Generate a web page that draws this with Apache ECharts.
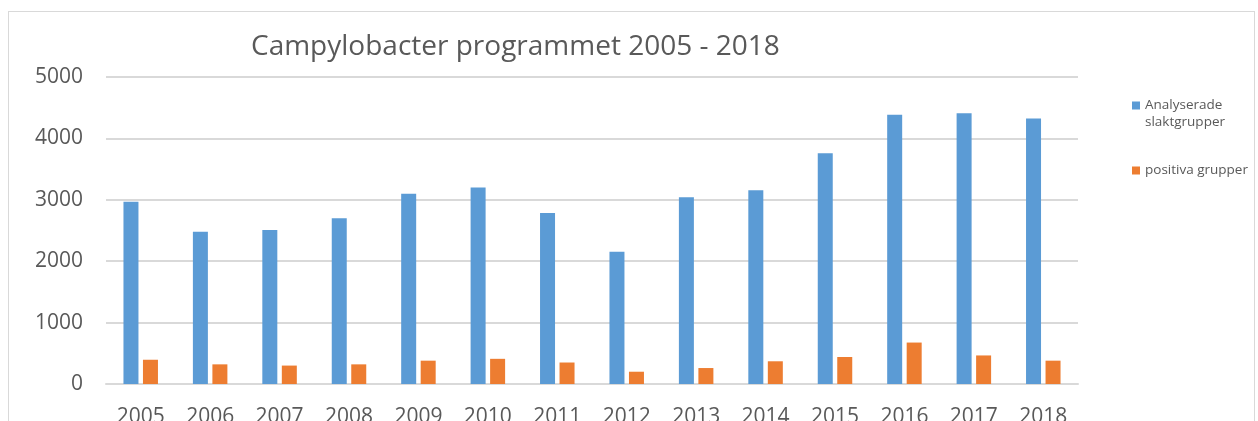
<!DOCTYPE html>
<html>
<head>
<meta charset="utf-8">
<script src="https://cdn.jsdelivr.net/npm/echarts@6/dist/echarts.min.js"></script>
<style>
  html, body { margin: 0; padding: 0; background: #ffffff; }
  #frame { position: absolute; left: 8px; top: 11px; width: 1247px; height: 440px; border: 1px solid #d9d9d9; box-sizing: border-box; }
  #chart { position: absolute; left: 0; top: 0; width: 1258px; height: 421px; }
</style>
</head>
<body>
<div id="frame"></div>
<div id="chart"></div>
<script>
const titleText = 'Campylobacter programmet 2005 - 2018';
const years = ['2005','2006','2007','2008','2009','2010','2011','2012','2013','2014','2015','2016','2017','2018'];
const analyserade = [2970, 2480, 2510, 2700, 3100, 3200, 2785, 2155, 3040, 3155, 3760, 4385, 4410, 4325];
const positiva = [395, 320, 300, 320, 380, 410, 350, 200, 260, 370, 440, 675, 465, 380];
const seriesNames = ['Analyserade slaktgrupper', 'positiva grupper'];
const yTicks = { min: 0, max: 5000, interval: 1000 };

const FONT = 'Open Sans';
const chart = echarts.init(document.getElementById('chart'), null, { renderer: 'canvas' });
chart.setOption({
  backgroundColor: 'transparent',
  animation: false,
  title: {
    text: titleText,
    left: 246,
    top: 28,
    textStyle: { fontFamily: FONT, fontSize: 28, fontWeight: 'normal', color: '#595959' }
  },
  legend: [
    {
      data: [seriesNames[0]],
      left: 1127, top: 75,
      itemWidth: 8, itemHeight: 8,
      icon: 'rect',
      formatter: function (n) { return '\n' + n.replace(' ', '\n'); },
      textStyle: { fontFamily: FONT, fontSize: 13.5, color: '#595959', lineHeight: 17 }
    },
    {
      data: [seriesNames[1]],
      left: 1127, top: 157,
      itemWidth: 8, itemHeight: 8,
      icon: 'rect',
      textStyle: { fontFamily: FONT, fontSize: 13.5, color: '#595959', lineHeight: 17 }
    }
  ],
  grid: { left: 106, right: 180, top: 77, bottom: 37, containLabel: false, outerBoundsMode: 'none' },
  xAxis: {
    type: 'category',
    data: years,
    axisTick: { show: false },
    axisLine: { lineStyle: { color: '#d9d9d9', width: 2 } },
    axisLabel: { fontFamily: FONT, fontSize: 21, color: '#595959', margin: 23 }
  },
  yAxis: {
    type: 'value',
    min: yTicks.min, max: yTicks.max, interval: yTicks.interval,
    axisLine: { show: false },
    axisTick: { show: false },
    splitLine: { lineStyle: { color: '#d9d9d9', width: 2 } },
    axisLabel: { fontFamily: FONT, fontSize: 21, color: '#595959', margin: 23, formatter: function (v) { return String(v); } }
  },
  series: [
    { name: seriesNames[0], type: 'bar', data: analyserade, barWidth: 15, barGap: '30%', itemStyle: { color: '#5b9bd5' } },
    { name: seriesNames[1], type: 'bar', data: positiva, barWidth: 15, barGap: '30%', itemStyle: { color: '#ed7d31' } }
  ]
});
</script>
</body>
</html>
